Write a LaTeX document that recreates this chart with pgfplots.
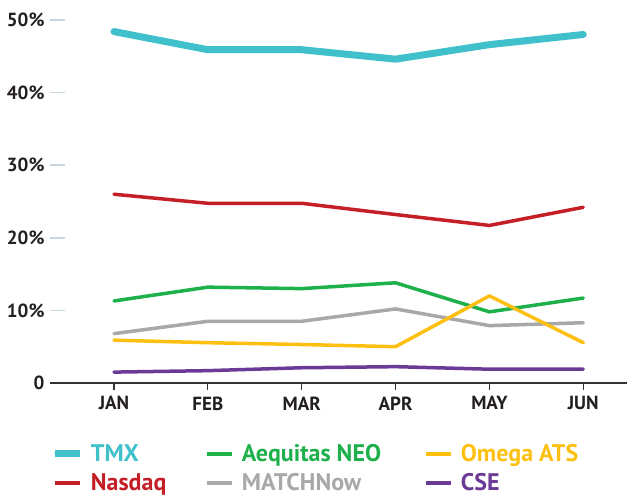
\documentclass[border=0pt]{standalone}
\usepackage{pgfplots}
\pgfplotsset{compat=1.18}
\usepackage{fontspec}
\setmainfont{PT Sans}
\definecolor{tmxc}{HTML}{40C0CB}
\definecolor{nasc}{HTML}{C41E26}
\definecolor{aeqc}{HTML}{1DB04B}
\definecolor{omec}{HTML}{FDC010}
\definecolor{matc}{HTML}{A8A8A8}
\definecolor{csec}{HTML}{6B3A96}
\definecolor{axiscol}{HTML}{333333}
\definecolor{tickcol}{HTML}{C8D6E0}
\definecolor{labelcol}{HTML}{231F20}
\begin{document}
\begin{tikzpicture}
\useasboundingbox (-50pt,-115pt) rectangle (577pt,383pt);
\begin{axis}[
  scale only axis, width=577pt, height=383pt,
  xmin=-0.682, xmax=5.466, ymin=0, ymax=52.75,
  clip=false,
  axis x line*=bottom, axis y line*=left,
  x axis line style={draw=axiscol, line width=2pt, -},
  y axis line style={draw=none},
  xtick={0,...,5}, xticklabels={JAN,FEB,MAR,APR,MAY,JUN},
  ytick={10,20,30,40,50}, yticklabels={10\%,20\%,30\%,40\%,50\%},
  extra y ticks={0}, extra y tick labels={0},
  extra y tick style={ytick style={draw=none}},
  tick align=inside,
  xtick style={draw=axiscol, line width=1.2pt, /pgfplots/major tick length=7pt, yshift=-7pt},
  ytick style={draw=tickcol, line width=1.5pt, /pgfplots/major tick length=15pt},
  ticklabel style={font=\fontsize{19}{19}\selectfont\bfseries, text=labelcol},
  yticklabel style={anchor=east, xshift=-2pt},
  xticklabel style={yshift=-10pt},
  legend columns=3,
  legend cell align=left,
  legend style={draw=none, fill=none, inner sep=0pt, at={(0,0)}, anchor=north west,
    xshift=1pt, yshift=-61pt, font=\fontsize{24}{24}\selectfont\bfseries,
    /tikz/column sep=0pt, /tikz/row sep=11pt, nodes={inner sep=0pt}},
  legend image code/.code={\draw[#1,line cap=round] (3.3pt,0pt) -- (21.7pt,0pt); \path (0pt,0pt) -- (25pt,0pt);},
]
\addlegendimage{tmxc, line width=6.7pt}
\addlegendentry{\hspace*{8pt}\textcolor{tmxc}{\makebox[114pt][l]{TMX}}}
\addlegendimage{aeqc, line width=4pt}
\addlegendentry{\hspace*{8pt}\textcolor{aeqc}{\makebox[182pt][l]{Aequitas NEO}}}
\addlegendimage{omec, line width=4pt}
\addlegendentry{\hspace*{8pt}\textcolor{omec}{Omega ATS}}
\addlegendimage{nasc, line width=4pt}
\addlegendentry{\hspace*{8pt}\textcolor{nasc}{\makebox[114pt][l]{Nasdaq}}}
\addlegendimage{matc, line width=4pt}
\addlegendentry{\hspace*{8pt}\textcolor{matc}{\makebox[182pt][l]{MATCHNow}}}
\addlegendimage{csec, line width=4pt}
\addlegendentry{\hspace*{8pt}\textcolor{csec}{CSE}}

\addplot[forget plot, tmxc, line width=7pt, line join=round, line cap=round]
  coordinates {(0,48.4) (1,45.9) (2,45.9) (3,44.6) (4,46.6) (5,48.0)};
\addplot[forget plot, nasc, line width=3.5pt, line join=round, line cap=round]
  coordinates {(0,26.0) (1,24.75) (2,24.75) (3,23.2) (4,21.7) (5,24.2)};
\addplot[forget plot, matc, line width=3.5pt, line join=round, line cap=round]
  coordinates {(0,6.8) (1,8.5) (2,8.5) (3,10.2) (4,7.9) (5,8.3)};
\addplot[forget plot, aeqc, line width=3.5pt, line join=round, line cap=round]
  coordinates {(0,11.3) (1,13.2) (2,13.0) (3,13.8) (4,9.8) (5,11.7)};
\addplot[forget plot, omec, line width=3.5pt, line join=round, line cap=round]
  coordinates {(0,5.9) (1,5.55) (2,5.3) (3,5.0) (4,12.0) (5,5.55)};
\addplot[forget plot, csec, line width=3.5pt, line join=round, line cap=round]
  coordinates {(0,1.5) (1,1.7) (2,2.1) (3,2.25) (4,1.9) (5,1.9)};
\end{axis}
\end{tikzpicture}
\end{document}
